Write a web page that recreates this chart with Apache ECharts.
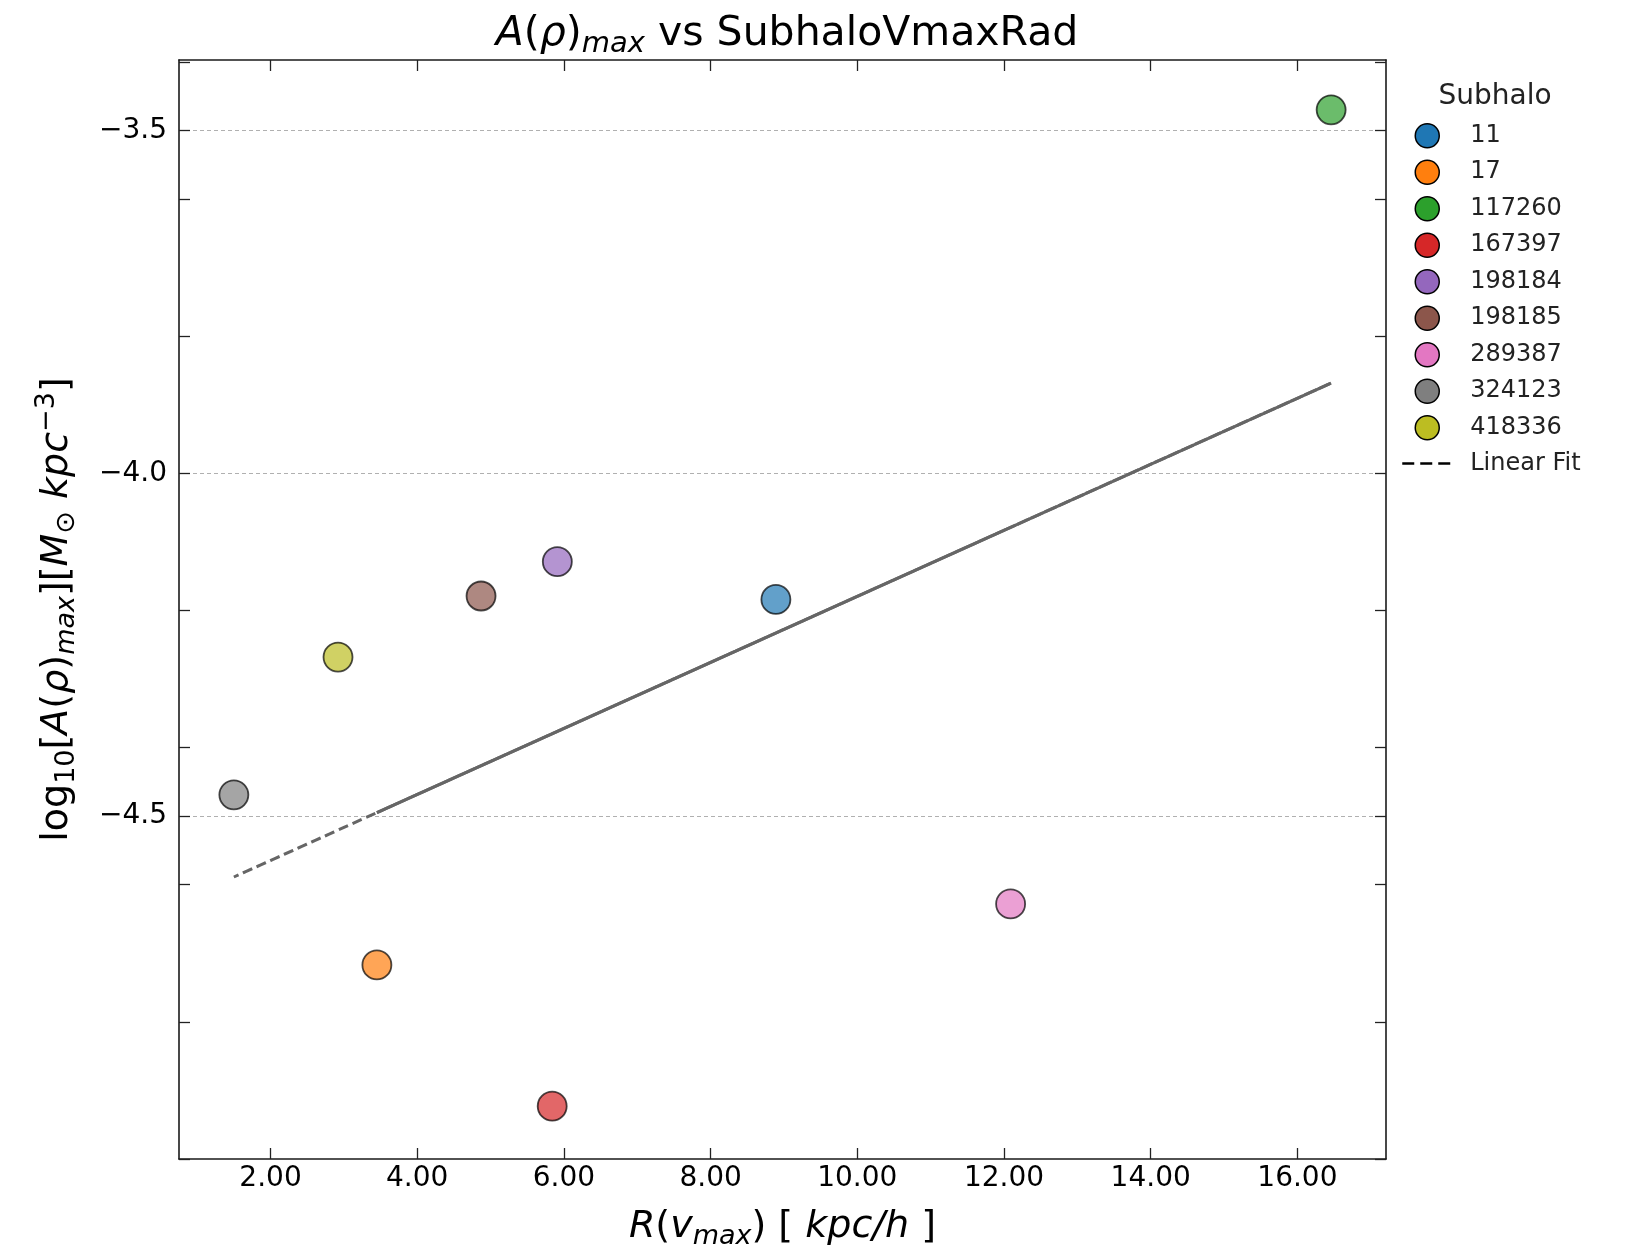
<!DOCTYPE html>
<html lang="en">
<head>
<meta charset="UTF-8">
<title>A(ρ)max vs SubhaloVmaxRad</title>
<script src="https://cdn.jsdelivr.net/npm/echarts@6/dist/echarts.min.js"></script>
<style>
  html, body { margin: 0; padding: 0; background: #fff; }
  #chart { width: 1625px; height: 1252px; }
</style>
</head>
<body>
<div id="chart"></div>
<script>
// subhalo ids and their values
var subhaloIds = ['11', '17', '117260', '167397', '198184', '198185', '289387', '324123', '418336'];
var rVmax = [8.89, 3.45, 16.46, 5.84, 5.91, 4.87, 12.09, 1.50, 2.92];          // R(vmax) [kpc/h]
var logAmax = [-4.184, -4.717, -3.470, -4.923, -4.129, -4.179, -4.628, -4.469, -4.268];
var colors = ['#1f77b4', '#ff7f0e', '#2ca02c', '#d62728', '#9467bd', '#8c564b', '#e377c2', '#7f7f7f', '#bcbd22'];

// ticks
var xTickValues = [2, 4, 6, 8, 10, 12, 14, 16];
var yLabelValues = [-4.5, -4.0, -3.5];
var yTickValues = [-5.0, -4.8, -4.6, -4.5, -4.4, -4.2, -4.0, -3.8, -3.6, -3.5, -3.4];

var F = 'DejaVu Sans';

// least squares fit
function linearFit(xs, ys) {
    var n = xs.length, mx = 0, my = 0, sxy = 0, sxx = 0;
    for (var i = 0; i < n; i++) { mx += xs[i]; my += ys[i]; }
    mx /= n; my /= n;
    for (var j = 0; j < n; j++) {
        sxy += (xs[j] - mx) * (ys[j] - my);
        sxx += (xs[j] - mx) * (xs[j] - mx);
    }
    var b = sxy / sxx;
    return { a: my - b * mx, b: b };
}
var fit = linearFit(rVmax, logAmax);
function fitY(x) { return fit.a + fit.b * x; }
// drawn in data order, like plt.plot(x, a + b*x)
var fitLine = rVmax.map(function (x) { return [x, fitY(x)]; });

// 5% margins like matplotlib
var xLo = Math.min.apply(null, rVmax), xHi = Math.max.apply(null, rVmax);
var yLo = Math.min.apply(null, logAmax), yHi = Math.max.apply(null, logAmax);
var xMin = xLo - 0.05 * (xHi - xLo), xMax = xHi + 0.05 * (xHi - xLo);
var yMin = -5.0, yMax = yHi + 0.05 * (yHi - yLo);

// the unsorted polyline overlaps itself from the 2nd point on, so the dashes fill in there
var solidPart = [[rVmax[1], fitY(rVmax[1])], [xHi, fitY(xHi)]];

function fade(hex, a) {
    var r = parseInt(hex.substr(1, 2), 16), g = parseInt(hex.substr(3, 2), 16), b = parseInt(hex.substr(5, 2), 16);
    return 'rgba(' + r + ',' + g + ',' + b + ',' + a + ')';
}
function minus(v) { return (v < 0 ? '\u2212' : '') + Math.abs(v).toFixed(1); }

var chart = echarts.init(document.getElementById('chart'));

var scatterSeries = subhaloIds.map(function (id, i) {
    return {
        name: id,
        type: 'scatter',
        data: [[rVmax[i], logAmax[i]]],
        symbol: 'circle',
        symbolSize: 29,
        z: 3,
        itemStyle: { color: fade(colors[i], 0.7), borderColor: 'rgba(0,0,0,0.7)', borderWidth: 1.8, opacity: 1 }
    };
});

var legendData = subhaloIds.map(function (id, i) {
    return { name: id, icon: 'circle', itemStyle: { color: colors[i], borderColor: '#000', borderWidth: 1.5, opacity: 1 } };
});
legendData.push({
    name: 'Linear Fit',
    itemStyle: { color: 'rgba(0,0,0,0)', borderColor: 'rgba(0,0,0,0)', borderWidth: 0, opacity: 0 },
    lineStyle: { color: '#000', width: 2.5, type: [12, 6], opacity: 1 }
});

var tickOnly = {
    type: 'value', min: yMin, max: yMax,
    axisLine: { show: false },
    axisTick: { show: true, inside: true, length: 11, customValues: yTickValues, lineStyle: { color: '#222', width: 1.3 } },
    axisLabel: { show: false },
    splitLine: { show: false }
};

var option = {
    animation: false,
    backgroundColor: '#fff',
    title: [{
        text: '{i|A}({i|ρ}){s|max} vs SubhaloVmaxRad',
        left: 782, top: 5, textAlign: 'center',
        textStyle: {
            fontFamily: F, fontSize: 41, fontWeight: 'normal', color: '#000',
            rich: {
                i: { fontFamily: F, fontSize: 41, fontStyle: 'italic', color: '#000' },
                s: { fontFamily: F, fontSize: 29, fontStyle: 'italic', color: '#000', padding: [20, 0, 0, 0] }
            }
        }
    }, {
        text: 'Subhalo',
        left: 1490, top: 78, textAlign: 'center',
        textStyle: { fontFamily: F, fontSize: 28, fontWeight: 'normal', color: '#222' }
    }],
    legend: {
        orient: 'vertical',
        left: 1401, top: 123,
        padding: 0,
        itemWidth: 50, itemHeight: 24, itemGap: 11,
        data: legendData,
        textStyle: { fontFamily: F, fontSize: 24, color: '#222', lineHeight: 24, padding: [0, 0, 0, 13] }
    },
    grid: { left: 179, top: 60, width: 1207, height: 1099, containLabel: false, outerBoundsMode: 'none' },
    xAxis: [{
        type: 'value', position: 'bottom', min: xMin, max: xMax,
        name: '{i|R}({i|v}{si|max}) [ {i|kpc/h} ]',
        nameLocation: 'middle', nameGap: 46,
        nameTextStyle: {
            fontFamily: F, fontSize: 38, color: '#000',
            rich: {
                i: { fontFamily: F, fontSize: 38, fontStyle: 'italic', color: '#000' },
                si: { fontFamily: F, fontSize: 27, fontStyle: 'italic', color: '#000', padding: [18, 0, 0, 0] }
            }
        },
        axisLine: { show: true, lineStyle: { color: '#1a1a1a', width: 1.6 } },
        axisTick: { show: true, inside: true, length: 11, customValues: xTickValues, lineStyle: { color: '#222', width: 1.3 } },
        axisLabel: {
            customValues: xTickValues, margin: 6,
            fontFamily: F, fontSize: 28, color: '#000',
            formatter: function (v) { return v.toFixed(2); }
        },
        splitLine: { show: false }
    }, {
        type: 'value', position: 'top', min: xMin, max: xMax,
        axisLine: { show: true, lineStyle: { color: '#1a1a1a', width: 1.6 } },
        axisTick: { show: true, inside: true, length: 11, customValues: xTickValues, lineStyle: { color: '#222', width: 1.3 } },
        axisLabel: { show: false },
        splitLine: { show: false }
    }],
    yAxis: [{
        type: 'value', position: 'left', min: yMin, max: yMax, interval: 0.5,
        name: 'log{s|10}[{i|A}({i|ρ}){si|max}][{i|M}{s|⊙} {i|kpc}{p|\u22123}]',
        nameLocation: 'middle', nameRotate: 90, nameGap: 97,
        nameTextStyle: {
            fontFamily: F, fontSize: 38, color: '#000',
            rich: {
                i: { fontFamily: F, fontSize: 38, fontStyle: 'italic', color: '#000' },
                s: { fontFamily: F, fontSize: 27, color: '#000', padding: [18, 0, 0, 0] },
                si: { fontFamily: F, fontSize: 27, fontStyle: 'italic', color: '#000', padding: [18, 0, 0, 0] },
                p: { fontFamily: F, fontSize: 27, color: '#000', padding: [0, 0, 22, 0] }
            }
        },
        axisLine: { show: true, lineStyle: { color: '#1a1a1a', width: 1.6 } },
        axisTick: { show: false },
        axisLabel: {
            customValues: yLabelValues, margin: 12,
            fontFamily: F, fontSize: 28, color: '#000',
            formatter: function (v) { return minus(v); }
        },
        splitLine: { show: true, showMinLine: false, showMaxLine: false, lineStyle: { color: '#b0b0b0', width: 1, type: [4, 3] } }
    },
    Object.assign({ position: 'left' }, tickOnly),
    Object.assign({}, tickOnly, { position: 'right', axisLine: { show: true, lineStyle: { color: '#1a1a1a', width: 1.6 } } })
    ],
    series: scatterSeries.concat([{
        name: 'Linear Fit',
        type: 'line',
        data: fitLine,
        symbol: 'none',
        z: 2,
        lineStyle: { color: '#666', width: 3, type: [10, 5] }
    }, {
        name: 'Linear Fit',
        type: 'line',
        data: solidPart,
        symbol: 'none',
        z: 2,
        lineStyle: { color: '#666', width: 3, type: 'solid' }
    }])
};

chart.setOption(option);
</script>
</body>
</html>
